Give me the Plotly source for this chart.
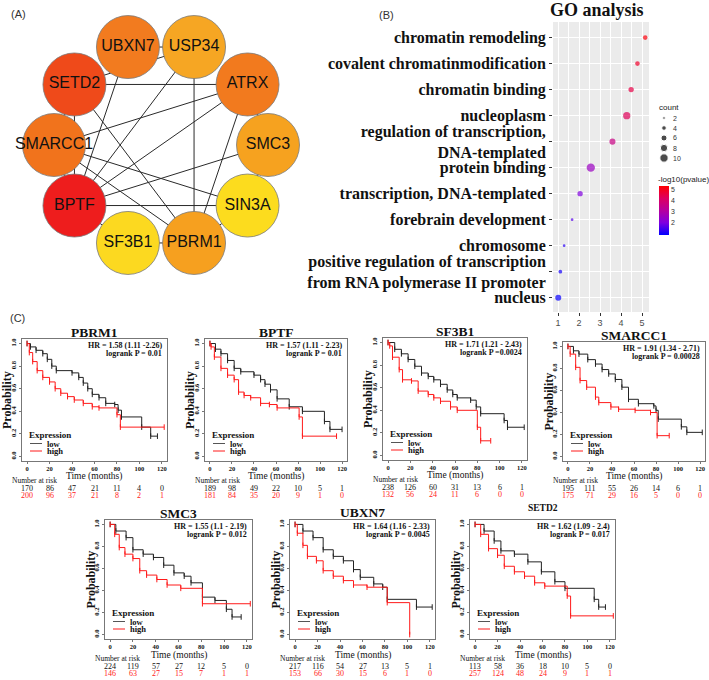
import numpy as np
import plotly.graph_objects as go

W, H = 709, 680
SERIF = "Liberation Serif"
SANS = "Liberation Sans"


def fx(px):
    return px / W


def fy(py):
    return 1 - py / H


# ---------------- Panel A : PPI network ----------------
genes = ["UBXN7", "USP34", "ATRX", "SMC3", "SIN3A", "PBRM1", "SF3B1", "BPTF", "SMARCC1", "SETD2"]
node_colors = ["#F27B1F", "#F6A623", "#F27A1E", "#F6A21F", "#FCDC1E",
               "#F6A01F", "#FCD920", "#EE1D1D", "#F1731C", "#EF4A1A"]
edges = [("UBXN7", "USP34"), ("SETD2", "USP34"), ("UBXN7", "BPTF"), ("USP34", "BPTF"),
         ("USP34", "PBRM1"), ("SETD2", "ATRX"), ("SETD2", "BPTF"), ("SETD2", "PBRM1"),
         ("ATRX", "SMARCC1"), ("ATRX", "BPTF"), ("ATRX", "PBRM1"), ("ATRX", "SMC3"),
         ("SMARCC1", "SIN3A"), ("SMARCC1", "PBRM1"), ("SMC3", "BPTF"), ("BPTF", "SIN3A"),
         ("SMC3", "SIN3A"), ("SIN3A", "PBRM1"), ("BPTF", "SF3B1"), ("SF3B1", "PBRM1"),
         ("SETD2", "SMARCC1"), ("SMARCC1", "BPTF")]

# ---------------- Panel B : GO analysis ----------------
go_terms = ["chromatin remodeling", "covalent chromatinmodification", "chromatin binding",
            "nucleoplasm", "regulation of transcription,|DNA-templated", "protein binding",
            "transcription, DNA-templated", "forebrain development", "chromosome",
            "positive regulation of transcription|from RNA polymerase II promoter", "nucleus"]
go_logp = [5.15, 4.78, 4.48, 4.27, 3.59, 2.56, 2.05, 1.67, 1.29, 1.11, 1.01]
go_count = [4, 4, 5, 8, 6, 10, 5, 2, 2, 3, 6]
count_legend = [2, 4, 6, 8, 10]
colorbar_ticks = [2, 3, 4, 5]
go_xticks = [1, 2, 3, 4, 5]

# ---------------- Panel C : Kaplan-Meier ----------------
km_times = [0, 20, 40, 60, 80, 100, 120]
km_yticks = [0.0, 0.2, 0.4, 0.6, 0.8, 1.0]

pbrm1_low_t = [0, 3, 8, 14, 18, 22, 26, 40, 46, 50, 54, 58, 64, 70, 78, 81, 84, 102, 110, 116]
pbrm1_low_s = [1.0, 0.97, 0.94, 0.91, 0.86, 0.80, 0.76, 0.74, 0.70, 0.65, 0.60, 0.55, 0.52, 0.47, 0.46, 0.41, 0.35, 0.26, 0.18, 0.18]
pbrm1_high_t = [0, 2, 5, 9, 14, 20, 25, 30, 36, 42, 50, 58, 64, 80, 83, 122]
pbrm1_high_s = [1.0, 0.92, 0.84, 0.76, 0.70, 0.66, 0.60, 0.56, 0.53, 0.50, 0.47, 0.44, 0.43, 0.37, 0.26, 0.26]
pbrm1_risk_low = [170, 86, 47, 21, 11, 4, 0]
pbrm1_risk_high = [200, 96, 37, 21, 8, 2, 1]

bptf_low_t = [0, 5, 10, 16, 22, 28, 40, 46, 50, 55, 61, 72, 84, 104, 109, 120]
bptf_low_s = [1.0, 0.95, 0.91, 0.85, 0.78, 0.75, 0.72, 0.68, 0.64, 0.59, 0.51, 0.44, 0.40, 0.31, 0.24, 0.24]
bptf_high_t = [0, 1, 4, 10, 16, 22, 26, 31, 37, 46, 54, 61, 81, 84, 115]
bptf_high_s = [1.0, 0.97, 0.88, 0.78, 0.72, 0.68, 0.57, 0.54, 0.52, 0.47, 0.46, 0.43, 0.35, 0.18, 0.18]
bptf_risk_low = [189, 98, 49, 22, 10, 5, 1]
bptf_risk_high = [181, 84, 35, 20, 9, 1, 0]

sf3b1_low_t = [0, 6, 12, 18, 24, 30, 36, 41, 47, 53, 58, 62, 74, 79, 83, 104, 107, 122]
sf3b1_low_s = [1.0, 0.94, 0.90, 0.85, 0.79, 0.73, 0.70, 0.67, 0.63, 0.58, 0.54, 0.51, 0.49, 0.43, 0.37, 0.31, 0.25, 0.25]
sf3b1_high_t = [0, 1.5, 4, 10, 13, 21, 27, 36, 41, 47, 56, 62, 80, 83, 92]
sf3b1_high_s = [1.0, 0.97, 0.87, 0.76, 0.67, 0.66, 0.57, 0.54, 0.51, 0.48, 0.43, 0.40, 0.25, 0.13, 0.13]
sf3b1_risk_low = [238, 126, 60, 31, 13, 6, 1]
sf3b1_risk_high = [132, 56, 24, 11, 6, 0, 0]

smarcc1_low_t = [0, 5, 10, 18, 25, 31, 37, 43, 49, 55, 64, 78, 80, 82, 103, 108, 122]
smarcc1_low_s = [1.0, 0.96, 0.93, 0.88, 0.84, 0.79, 0.75, 0.70, 0.63, 0.52, 0.48, 0.46, 0.42, 0.34, 0.27, 0.22, 0.22]
smarcc1_high_t = [0, 2, 7, 11, 17, 25, 28, 39, 46, 61, 75, 81, 92]
smarcc1_high_s = [1.0, 0.93, 0.81, 0.69, 0.63, 0.54, 0.49, 0.45, 0.43, 0.42, 0.40, 0.19, 0.19]
smarcc1_risk_low = [195, 111, 55, 26, 14, 6, 1]
smarcc1_risk_high = [175, 71, 29, 16, 5, 0, 0]

smc3_low_t = [0, 5, 14, 20, 29, 38, 47, 56, 65, 71, 81, 92, 102, 107, 115]
smc3_low_s = [1.0, 0.94, 0.88, 0.77, 0.73, 0.70, 0.63, 0.56, 0.53, 0.47, 0.34, 0.31, 0.23, 0.16, 0.16]
smc3_high_t = [0, 4, 8, 13, 20, 26, 32, 41, 50, 62, 81, 123]
smc3_high_s = [1.0, 0.91, 0.79, 0.73, 0.69, 0.58, 0.54, 0.50, 0.45, 0.42, 0.28, 0.28]
smc3_risk_low = [224, 119, 57, 27, 12, 5, 0]
smc3_risk_high = [146, 63, 27, 15, 7, 1, 1]

ubxn7_low_t = [0, 7, 16, 25, 34, 43, 52, 58, 70, 78, 82, 108, 122]
ubxn7_low_s = [1.0, 0.94, 0.88, 0.77, 0.71, 0.67, 0.59, 0.52, 0.46, 0.43, 0.32, 0.25, 0.25]
ubxn7_high_t = [0, 2, 7, 11, 19, 25, 34, 43, 52, 64, 82, 102]
ubxn7_high_s = [1.0, 0.92, 0.81, 0.71, 0.67, 0.58, 0.53, 0.49, 0.45, 0.43, 0.29, 0.0]
ubxn7_risk_low = [217, 116, 54, 27, 13, 5, 1]
ubxn7_risk_high = [153, 66, 30, 15, 6, 1, 0]

setd2_low_t = [0, 8, 17, 23, 35, 47, 59, 71, 80, 106, 110, 116]
setd2_low_s = [1.0, 0.94, 0.85, 0.76, 0.73, 0.66, 0.57, 0.48, 0.42, 0.32, 0.25, 0.25]
setd2_high_t = [0, 5, 12, 20, 26, 35, 44, 53, 62, 82, 85, 123]
setd2_high_s = [1.0, 0.91, 0.78, 0.72, 0.62, 0.57, 0.53, 0.47, 0.44, 0.35, 0.17, 0.17]
setd2_risk_low = [113, 58, 36, 18, 10, 5, 0]
setd2_risk_high = [257, 124, 48, 24, 9, 1, 1]

# panel layout (box in pixels: left, top, right, bottom), title size, title offset
panels = [
    dict(name="PBRM1", box=(22, 339, 167, 461), ts=13.5, td=7,
         lt=pbrm1_low_t, ls=pbrm1_low_s, ht=pbrm1_high_t, hs=pbrm1_high_s,
         rl=pbrm1_risk_low, rh=pbrm1_risk_high, hr="HR = 1.58 (1.11 -2.26)", lp="logrank P = 0.01"),
    dict(name="BPTF", box=(205, 339, 347, 461), ts=13.5, td=7,
         lt=bptf_low_t, ls=bptf_low_s, ht=bptf_high_t, hs=bptf_high_s,
         rl=bptf_risk_low, rh=bptf_risk_high, hr="HR = 1.57 (1.11 - 2.23)", lp="logrank P = 0.01"),
    dict(name="SF3B1", box=(383, 338, 527, 460), ts=13.5, td=7,
         lt=sf3b1_low_t, ls=sf3b1_low_s, ht=sf3b1_high_t, hs=sf3b1_high_s,
         rl=sf3b1_risk_low, rh=sf3b1_risk_high, hr="HR = 1.71 (1.21 - 2.43)", lp="logrank P =0.0024"),
    dict(name="SMARCC1", box=(563, 342, 705, 461), ts=13.5, td=7,
         lt=smarcc1_low_t, ls=smarcc1_low_s, ht=smarcc1_high_t, hs=smarcc1_high_s,
         rl=smarcc1_risk_low, rh=smarcc1_risk_high, hr="HR = 1.91 (1.34 - 2.71)", lp="logrank P = 0.00028"),
    dict(name="SMC3", box=(105, 520, 252, 639), ts=13.5, td=7,
         lt=smc3_low_t, ls=smc3_low_s, ht=smc3_high_t, hs=smc3_high_s,
         rl=smc3_risk_low, rh=smc3_risk_high, hr="HR = 1.55 (1.1 - 2.19)", lp="logrank P = 0.012"),
    dict(name="UBXN7", box=(290, 520, 435, 639), ts=13.5, td=8,
         lt=ubxn7_low_t, ls=ubxn7_low_s, ht=ubxn7_high_t, hs=ubxn7_high_s,
         rl=ubxn7_risk_low, rh=ubxn7_risk_high, hr="HR = 1.64 (1.16 - 2.33)", lp="logrank P = 0.0045"),
    dict(name="SETD2", box=(470, 520, 615, 639), ts=9.5, td=12,
         lt=setd2_low_t, ls=setd2_low_s, ht=setd2_high_t, hs=setd2_high_s,
         rl=setd2_risk_low, rh=setd2_risk_high, hr="HR = 1.62 (1.09 - 2.4)", lp="logrank P = 0.017"),
]

fig = go.Figure()
annotations = []
shapes = []


def ann(px, py, text, size, family=SERIF, color="#111", xanchor="center", yanchor="middle",
        xref="paper", x=None, **kw):
    annotations.append(dict(x=fx(px) if x is None else x, y=fy(py), xref=xref, yref="paper", text=text,
                            showarrow=False, xanchor=xanchor, yanchor=yanchor,
                            font=dict(family=family, size=size, color=color), **kw))


layout = dict(width=W, height=H, margin=dict(l=0, r=0, t=0, b=0, pad=0),
              paper_bgcolor="white", plot_bgcolor="rgba(0,0,0,0)", showlegend=False)

# overlay pixel axis for network and legend keys
layout["xaxis9"] = dict(domain=[0, 1], range=[0, W], visible=False, fixedrange=True, anchor="y9")
layout["yaxis9"] = dict(domain=[0, 1], range=[H, 0], visible=False, fixedrange=True, anchor="x9")

# ---- network (circular layout) ----
cx, cy, Rx, Ry = 161, 145, 107, 103
theta = np.deg2rad(-18 + 36 * np.arange(len(genes)))
node_x = cx + Rx * np.sin(theta)
node_y = cy - Ry * np.cos(theta)
pos = {g: (x, y) for g, x, y in zip(genes, node_x, node_y)}
ex, ey = [], []
for a, b in edges:
    ex += [pos[a][0], pos[b][0], None]
    ey += [pos[a][1], pos[b][1], None]
fig.add_trace(go.Scatter(x=ex, y=ey, mode="lines", line=dict(color="#2a2a2a", width=1),
                         xaxis="x9", yaxis="y9"))
fig.add_trace(go.Scatter(x=node_x, y=node_y, mode="markers+text", text=genes,
                         textposition="middle center",
                         marker=dict(size=63, color=node_colors, line=dict(color="#7a7a7a", width=0.8)),
                         textfont=dict(family=SANS, size=16, color="#111"),
                         xaxis="x9", yaxis="y9"))
ann(18, 14, "(A)", 11, family=SANS, color="#333")

# ---- GO dot plot ----
def count_to_px(c):
    return 3.2 * np.sqrt(c) - 1.8


def bold_lines(t):
    return "<br>".join(f"<b>{p}</b>" for p in t.split("|"))


gg_scale = [[0, "#0000FF"], [0.25, "#7F00E0"], [0.5, "#B5009F"], [0.75, "#DD0060"], [1, "#FF0000"]]
go_y = list(range(len(go_terms)))
fig.add_trace(go.Scatter(
    x=go_logp, y=go_y, mode="markers", xaxis="x", yaxis="y",
    marker=dict(size=[count_to_px(c) for c in go_count], color=go_logp, colorscale=gg_scale,
                cmin=0.94, cmax=5.27, line=dict(width=0),
                colorbar=dict(x=fx(659), xanchor="left", y=fy(235), yanchor="bottom",
                              len=49, lenmode="pixels", thickness=10, thicknessmode="pixels",
                              outlinewidth=0, tickvals=colorbar_ticks, ticks="",
                              tickfont=dict(family=SANS, size=7, color="#333"), xpad=0, ypad=0))))
layout["xaxis"] = dict(domain=[fx(553), fx(649)], range=[0.76, 5.33], tickmode="linear", tick0=1, dtick=1,
                       ticks="outside", ticklen=2.5, tickcolor="#333",
                       tickfont=dict(family=SANS, size=9, color="#4d4d4d"),
                       showgrid=True, gridcolor="white", gridwidth=1.1,
                       minor=dict(dtick=0.5, tick0=0.5, showgrid=True, gridcolor="white", gridwidth=0.5),
                       zeroline=False, showline=False, anchor="y", fixedrange=True)
layout["yaxis"] = dict(domain=[fy(312), fy(22)], range=[10.55, -0.6], tickvals=go_y,
                       ticktext=[bold_lines(t) for t in go_terms], ticks="outside", ticklen=3,
                       tickcolor="#333", tickfont=dict(family=SERIF, size=16, color="#111"),
                       showgrid=True, gridcolor="white", gridwidth=1.1, zeroline=False,
                       anchor="x", fixedrange=True)
shapes.append(dict(type="rect", xref="x domain", yref="y domain", x0=0, x1=1, y0=0, y1=1,
                   fillcolor="#EBEBEB", line=dict(width=0), layer="below"))
ann(597, 10, "<b>GO analysis</b>", 18)
ann(386, 15, "(B)", 11, family=SANS, color="#333")
# size legend
leg_y = [118 + 10 * i for i in range(len(count_legend))]
fig.add_trace(go.Scatter(x=[664] * len(count_legend), y=leg_y, mode="markers", xaxis="x9", yaxis="y9",
                         marker=dict(size=[count_to_px(c) for c in count_legend], color="black")))
ann(657, 107, "count", 8, family=SANS, color="#222", xanchor="left")
for c, yy in zip(count_legend, leg_y):
    ann(671, yy, str(c), 7, family=SANS, color="#333", xanchor="left")
ann(656, 180, "-log10(pvalue)", 8, family=SANS, color="#222", xanchor="left")

# ---- KM panels ----
ann(17, 318, "(C)", 11, family=SANS, color="#333")
for k, p in enumerate(panels):
    ax = k + 2
    L, T, Rr, B = p["box"]
    xa, ya = f"x{ax}", f"y{ax}"
    layout[f"xaxis{ax}"] = dict(domain=[fx(L), fx(Rr)], range=[-4.5, 124.5], anchor=ya,
                                showline=True, mirror=True, linecolor="#777", linewidth=1,
                                ticks="outside", ticklen=2, tickcolor="#777", ticklabelstandoff=-1,
                                tickvals=km_times, ticktext=[f"<b>{t}</b>" for t in km_times],
                                tickfont=dict(family=SERIF, size=6.5, color="#111"),
                                showgrid=False, zeroline=False, fixedrange=True)
    layout[f"yaxis{ax}"] = dict(domain=[fy(B), fy(T)], range=[-0.04, 1.04], anchor=xa,
                                showline=True, mirror=True, linecolor="#777", linewidth=1,
                                ticks="outside", ticklen=2, tickcolor="#777",
                                tickvals=km_yticks, ticktext=[f"<b>{v:.1f}</b>" for v in km_yticks],
                                tickangle=-90, tickfont=dict(family=SERIF, size=6.5, color="#111"),
                                showgrid=False, zeroline=False, fixedrange=True)
    for tt, ss, col in ((p["lt"], p["ls"], "#222"), (p["ht"], p["hs"], "#FF1A1A")):
        fig.add_trace(go.Scatter(x=tt, y=ss, mode="lines+markers", xaxis=xa, yaxis=ya,
                                 line=dict(color=col, width=1, shape="hv"),
                                 marker=dict(symbol="line-ns", size=4, line=dict(color=col, width=1))))
    xc = (L + Rr) / 2
    ann(xc, T - p["td"], f"<b>{p['name']}</b>", p["ts"])
    ann(Rr - 3, T + 6, f"<b>{p['hr']}</b>", 8, xanchor="right")
    ann(Rr - 3, T + 14.5, f"<b>{p['lp']}</b>", 8, xanchor="right")
    ann(L - 15, (T + B) / 2, "<b>Probability</b>", 12, textangle=-90)
    ann(L + 5, B - 26, "<b>Expression</b>", 9, xanchor="left")
    ann(L + 23, B - 17.5, "<b>low</b>", 8.5, xanchor="left")
    ann(L + 23, B - 10, "<b>high</b>", 8.5, xanchor="left")
    ann(xc, B + 16, "Time (months)", 9.5)
    ann(L - 12, B + 19, "Number at risk", 7.5, xanchor="left")
    ann(0, B + 27, "low", 8, xanchor="right", xref=xa, x=-7)
    ann(0, B + 34.5, "high", 8, color="#FF1A1A", xanchor="right", xref=xa, x=-7)
    shapes += [
        dict(type="line", xref="paper", yref="paper", x0=fx(L + 8), x1=fx(L + 20),
             y0=fy(B - 17.5), y1=fy(B - 17.5), line=dict(color="#555", width=1)),
        dict(type="line", xref="paper", yref="paper", x0=fx(L + 8), x1=fx(L + 20),
             y0=fy(B - 10), y1=fy(B - 10), line=dict(color="#FF1A1A", width=1)),
    ]
    for t, nl, nh in zip(km_times, p["rl"], p["rh"]):
        ann(0, B + 27, str(nl), 8, xref=xa, x=t)
        ann(0, B + 34.5, str(nh), 8, color="#FF1A1A", xref=xa, x=t)

layout["annotations"] = annotations
layout["shapes"] = shapes
fig.update_layout(**layout)
fig.update_traces(hoverinfo="skip")
fig.write_html("out.html", config={"displayModeBar": False},
               post_script="document.body.style.margin='0';document.body.style.overflow='hidden';")
